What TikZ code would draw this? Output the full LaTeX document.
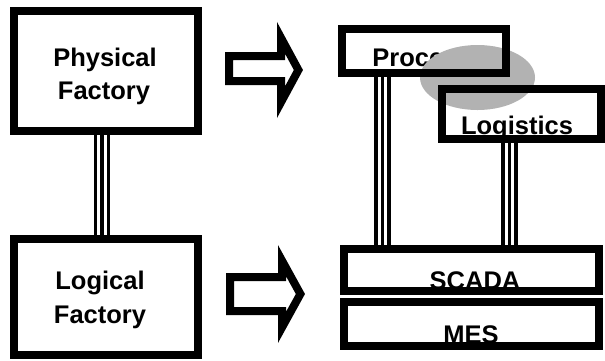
\documentclass[tikz,border=0pt]{standalone}
\usepackage{fontspec}
\setmainfont{Liberation Sans}
\usetikzlibrary{calc}
\begin{document}
\begin{tikzpicture}[x=1pt,y=-1pt,
  box/.style={draw=black,line width=8pt,rectangle,inner sep=0pt,outer sep=0pt},
  lbl/.style={anchor=base,inner sep=0pt,font=\fontsize{25.5}{30}\selectfont\bfseries},
  tline/.style={draw=black,line width=3.4pt},
  blockarrow/.style={draw=black,line width=8pt,miter limit=10}]
\useasboundingbox (0,0) rectangle (605,360);
% Process text (partly hidden by the ellipse)
\node[lbl] (tproc) at (422,66) {Process};
\fill[black!30] (477.5,77.5) ellipse [x radius=57.5, y radius=32.5];
% boxes
\node[box,minimum width=184pt,minimum height=120pt] (phys) at (106,71) {};
\node[box,minimum width=184pt,minimum height=116pt] (logi) at (106,297) {};
\node[box,minimum width=164pt,minimum height=44pt] (proc) at (424,51) {};
\node[box,minimum width=159pt,minimum height=50pt] (logis) at (521.5,114) {};
\node[box,minimum width=255pt,minimum height=42pt] (scada) at (471.5,270) {};
\node[box,minimum width=255pt,minimum height=44pt] (mes) at (471.5,324) {};
% texts
\node[lbl] (tphys1) at (105,66) {Physical};
\node[lbl] (tphys2) at (104,99) {Factory};
\node[lbl] (tlogi1) at (100,289) {Logical};
\node[lbl] (tlogi2) at (100,323) {Factory};
\node[lbl] (tlogis) at (517,134) {Logistics};
\node[lbl] (tscada) at (475,289) {SCADA};
\node[lbl] (tmes) at (471,343) {MES};
% triple connectors
\foreach \d in {-6.5,0,6.5}{
  \draw[tline] ($(phys.south)+(\d-4,0)$) -- ($(logi.north)+(\d-4,0)$);
  \draw[tline] ($(proc.south)+(\d-41.5,0)$) -- ($(proc.south|-scada.north)+(\d-41.5,0)$);
  \draw[tline] ($(logis.south)+(\d-12,0)$) -- ($(logis.south|-scada.north)+(\d-12,0)$);
}
% block arrows
\draw[blockarrow] (229,56) -- (281,56) -- (281,37.8) -- (298.4,70) -- (281,102.2) -- (281,81) -- (229,81) -- cycle;
\draw[blockarrow] (230,277) -- (282,277) -- (282,260.6) -- (300.4,294) -- (282,327.4) -- (282,311) -- (230,311) -- cycle;
\end{tikzpicture}
\end{document}
